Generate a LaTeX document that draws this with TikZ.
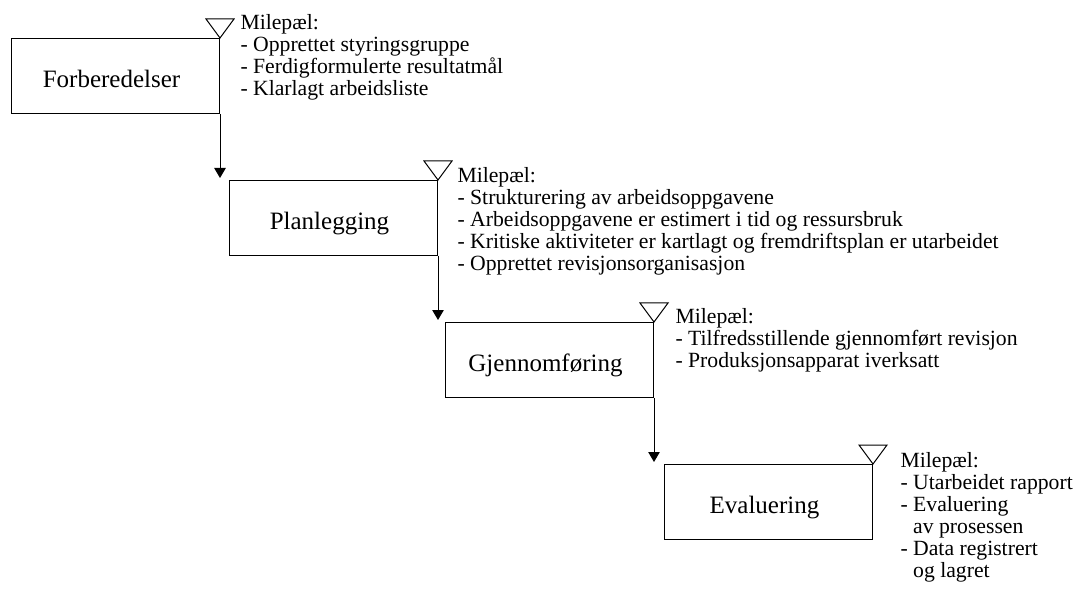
\documentclass[tikz,border=0pt]{standalone}
\usepackage{fontspec}
\setmainfont{Liberation Serif}
\usetikzlibrary{arrows.meta}
\begin{document}
\begin{tikzpicture}[x=1pt,y=-1pt,line width=1pt,
  phase/.style={draw=black,minimum width=208pt,minimum height=75pt,inner sep=0pt,anchor=north west},
  phaselabel/.style={font=\fontsize{25}{30}\selectfont,anchor=base,inner sep=0pt},
  milestone/.style={draw=black,line join=miter},
  notes/.style={font=\fontsize{21.7}{22}\selectfont,align=left,anchor=north west,inner sep=0pt},
  arr/.style={-{Triangle[width=11.5pt,length=10pt]}}]
\useasboundingbox (0,0) rectangle (1075,601);

% phase boxes
\node[phase] (b1) at (11,38) {};
\node[phase] (b2) at (229,180) {};
\node[phase] (b3) at (445,322) {};
\node[phase] (b4) at (664,464) {};

% phase names
\node[phaselabel] (l1) at ([xshift=-4pt,yshift=-49.5pt]b1.north) {Forberedelser};
\node[phaselabel] (l2) at ([xshift=-4pt,yshift=-49.5pt]b2.north) {Planlegging};
\node[phaselabel] (l3) at ([xshift=-4pt,yshift=-49.5pt]b3.north) {Gjennomføring};
\node[phaselabel] (l4) at ([xshift=-4pt,yshift=-49.5pt]b4.north) {Evaluering};

% milestone markers at the end of each phase
\foreach \b in {b1,b2,b3,b4}
  \draw[milestone] (\b.north east) -- ++(-14,-19) -- ++(28,0) -- cycle;

% flow from one phase to the next
\draw[arr] (b1.south east) -- ([yshift=2pt]b1.south east |- b2.north);
\draw[arr] (b2.south east) -- ([yshift=2pt]b2.south east |- b3.north);
\draw[arr] (b3.south east) -- ([yshift=2pt]b3.south east |- b4.north);

% milestone descriptions (placed by the top of their first line)
\node[notes] (m1) at (240,14) {Milepæl:\\- Opprettet styringsgruppe\\- Ferdigformulerte resultatmål\\- Klarlagt arbeidsliste};
\node[notes] (m2) at (457,167) {Milepæl:\\- Strukturering av arbeidsoppgavene\\- Arbeidsoppgavene er estimert i tid og ressursbruk\\- Kritiske aktiviteter er kartlagt og fremdriftsplan er utarbeidet\\- Opprettet revisjonsorganisasjon};
\node[notes] (m3) at (675,308) {Milepæl:\\- Tilfredsstillende gjennomført revisjon\\- Produksjonsapparat iverksatt};
\node[notes] (m4) at (900,452) {Milepæl:\\- Utarbeidet rapport\\- Evaluering\\\phantom{- }av prosessen\\- Data registrert\\\phantom{- }og lagret};
\end{tikzpicture}
\end{document}
